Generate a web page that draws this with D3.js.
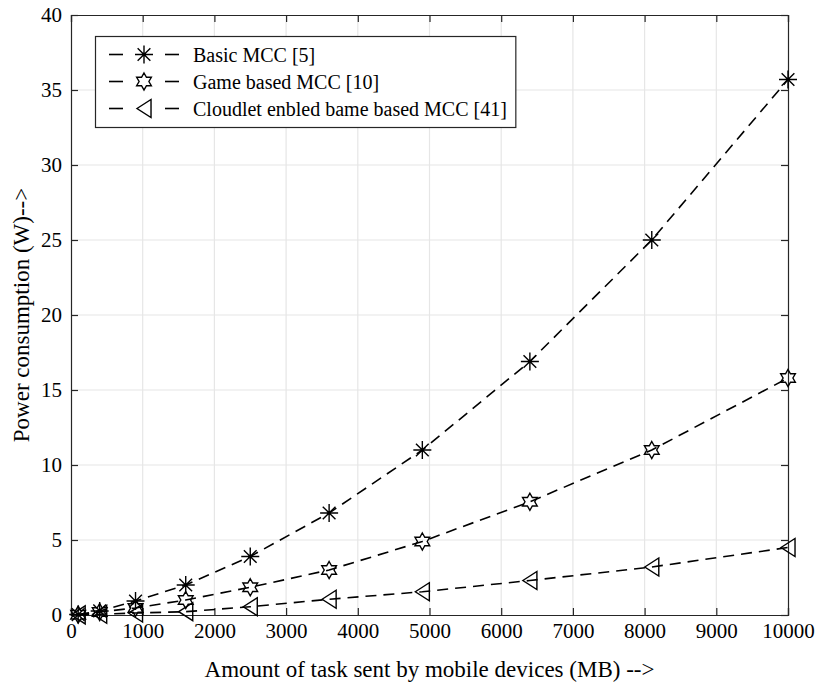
<!DOCTYPE html>
<html><head><meta charset="utf-8">
<script src="https://cdn.jsdelivr.net/npm/d3@7"></script>
<style>body{margin:0;background:#fff}svg{display:block}</style>
</head><body>
<script>
const xValues = [100, 400, 900, 1600, 2500, 3600, 4900, 6400, 8100, 10000];
const basicMCC = [0.03, 0.27, 0.93, 2.0, 3.9, 6.8, 11.0, 16.9, 25.0, 35.7];
const gameMCC = [0.02, 0.2, 0.47, 1.0, 1.85, 3.0, 4.9, 7.55, 11.0, 15.8];
const cloudletMCC = [0.01, 0.05, 0.13, 0.22, 0.55, 1.05, 1.55, 2.3, 3.2, 4.5];
const seriesNames = ["Basic MCC [5]", "Game based MCC [10]", "Cloudlet enbled bame based MCC [41]"];
const xTicks = [0,1000,2000,3000,4000,5000,6000,7000,8000,9000,10000];
const yTicks = [0,5,10,15,20,25,30,35,40];
const xLabel = "Amount of task sent by mobile devices (MB) -->";
const yLabel = "Power consumption (W)-->";

const W = 820, H = 685;
const m = {left: 71, right: 32, top: 15, bottom: 70};
const font = "Liberation Serif, Times New Roman, serif";
const fsTick = 21, fsLabel = 23, fsLegend = 20;
const axisColor = "#262626";

const svg = d3.select("body").append("svg").attr("width", W).attr("height", H);
const x = d3.scaleLinear().domain([0, 10000]).range([m.left, W - m.right]);
const y = d3.scaleLinear().domain([0, 40]).range([H - m.bottom, m.top]);

// grid
const g = svg.append("g");
g.selectAll(".gx").data(xTicks.slice(1, -1)).join("line")
  .attr("x1", d => x(d)).attr("x2", d => x(d)).attr("y1", y(0)).attr("y2", y(40))
  .attr("stroke", "#e6e6e6").attr("stroke-width", 1.2);
g.selectAll(".gy").data(yTicks.slice(1, -1)).join("line")
  .attr("y1", d => y(d)).attr("y2", d => y(d)).attr("x1", x(0)).attr("x2", x(10000))
  .attr("stroke", "#e6e6e6").attr("stroke-width", 1.2);

// axes
const tl = 7;
const ax = svg.append("g").attr("transform", `translate(0,${y(0)})`)
  .call(d3.axisBottom(x).tickValues(xTicks).tickSize(-tl).tickPadding(8).tickFormat(d3.format("d")));
const axT = svg.append("g").attr("transform", `translate(0,${y(40)})`)
  .call(d3.axisTop(x).tickValues(xTicks).tickSize(-tl).tickFormat(""));
const ay = svg.append("g").attr("transform", `translate(${x(0)},0)`)
  .call(d3.axisLeft(y).tickValues(yTicks).tickSize(-tl).tickPadding(9));
const ayR = svg.append("g").attr("transform", `translate(${x(10000)},0)`)
  .call(d3.axisRight(y).tickValues(yTicks).tickSize(-tl).tickFormat(""));
[ax, axT, ay, ayR].forEach(a => {
  a.select(".domain").attr("stroke", axisColor).attr("stroke-width", 1.2);
  a.selectAll(".tick line").attr("stroke", axisColor).attr("stroke-width", 1.2);
  a.selectAll("text").attr("font-family", font).attr("font-size", fsTick).attr("fill", "#000");
});

// labels
svg.append("text").attr("x", (x(0) + x(10000)) / 2).attr("y", 677)
  .attr("text-anchor", "middle").attr("font-family", font).attr("font-size", fsLabel).text(xLabel);
svg.append("text").attr("transform", `translate(29,${(y(0) + y(40)) / 2}) rotate(-90)`)
  .attr("text-anchor", "middle").attr("font-family", font).attr("font-size", fsLabel).text(yLabel);

// marker shapes
function asterisk(s) {
  const r = s / 2, d = r * Math.SQRT1_2;
  return `M${-r},0L${r},0M0,${-r}L0,${r}M${-d},${-d}L${d},${d}M${-d},${d}L${d},${-d}`;
}
function hexagram(s) {
  const R = s / 2, r = R / Math.sqrt(3);
  const pts = [];
  for (let i = 0; i < 12; i++) {
    const a = -Math.PI / 2 + i * Math.PI / 6;
    const rr = i % 2 === 0 ? R : r;
    pts.push([rr * Math.cos(a), rr * Math.sin(a)]);
  }
  return "M" + pts.map(p => p.join(",")).join("L") + "Z";
}
function triLeft(s) {
  const h = s / 2;
  return `M${-h * 0.78},0L${h * 0.78},${-h}L${h * 0.78},${h}Z`;
}
const markers = [d => asterisk(18), d => hexagram(17), d => triLeft(18)];
const seriesData = [basicMCC, gameMCC, cloudletMCC];

const line = d3.line().x(d => x(d[0])).y(d => y(d[1]));
seriesData.forEach((vals, i) => {
  const pts = xValues.map((xv, j) => [xv, vals[j]]);
  svg.append("path").datum(pts).attr("d", line).attr("fill", "none")
    .attr("stroke", "#000").attr("stroke-width", 1.6).attr("stroke-dasharray", "11,7");
  svg.append("g").selectAll("path").data(pts).join("path")
    .attr("transform", d => `translate(${x(d[0])},${y(d[1])})`)
    .attr("d", markers[i]).attr("fill", "none").attr("stroke", "#000").attr("stroke-width", 1.4);
});

// legend
const lg = svg.append("g");
const legendTexts = [];
const lgRect = lg.append("rect").attr("x", 95.5).attr("y", 36.5).attr("height", 91)
  .attr("fill", "#fff").attr("stroke", axisColor).attr("stroke-width", 1.2);
seriesNames.forEach((name, i) => {
  const cy = 54.5 + i * 27;
  lg.append("line").attr("x1", 109).attr("x2", 123).attr("y1", cy).attr("y2", cy)
    .attr("stroke", "#000").attr("stroke-width", 1.6);
  lg.append("line").attr("x1", 165).attr("x2", 179).attr("y1", cy).attr("y2", cy)
    .attr("stroke", "#000").attr("stroke-width", 1.6);
  lg.append("path").attr("transform", `translate(144,${cy})`).attr("d", markers[i]())
    .attr("fill", "none").attr("stroke", "#000").attr("stroke-width", 1.4);
  legendTexts.push(lg.append("text").attr("x", 193).attr("y", cy).attr("dy", "0.35em")
    .attr("font-family", font).attr("font-size", fsLegend).text(name));
});
const maxW = d3.max(legendTexts, t => t.node().getComputedTextLength());
lgRect.attr("width", 193 + maxW + 9 - 95.5);
</script>
</body></html>
